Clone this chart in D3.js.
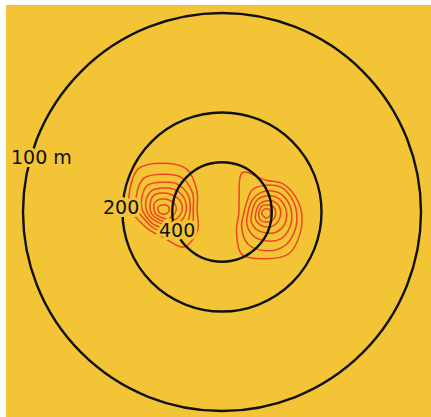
<!DOCTYPE html>
<html>
<head>
<meta charset="utf-8">
<script src="https://cdn.jsdelivr.net/npm/d3@7"></script>
<style>
  body { margin: 0; background: #fff; }
</style>
</head>
<body>
<div id="chart"></div>
<script>
// ring distances (m) -- ring radius goes as 1/distance
const rings = [100, 200, 400];
const ringLabels = ["100 m", "200", "400"];

// contour radii read every 30 deg, clockwise from north (plot units, outer ring = 200)
const bearings = [0, 30, 60, 90, 120, 150, 180, 210, 240, 270, 300, 330];

const leftCenter = [-60, -2];
const leftContours = [
    [47, 48, 40, 35, 41, 43, 27, 24, 25, 32, 38, 48],
    [36, 38, 35, 31, 34, 31, 22, 20, 20, 25, 30, 37],
    [28, 30, 30, 28, 28, 24, 18, 17, 17, 20, 24, 29],
    [22, 24, 25, 24, 22, 18, 14, 13, 14, 16, 19, 22],
    [17, 18, 20, 20, 17, 14, 11, 10, 11, 12, 14, 17],
    [11, 12, 14, 14, 12, 10, 8, 7, 8, 8, 10, 11],
    [5, 6, 7, 7, 6, 5, 4, 4, 4, 4, 5, 5]
];

const rightCenter = [44, 1];
const rightContours = [
    [33, 34, 34, 36, 40, 47, 46, 48, 34, 27, 31, 47],
    [28, 30, 30, 31, 34, 38, 38, 36, 28, 22, 22, 27],
    [22, 24, 25, 26, 28, 30, 28, 26, 22, 18, 18, 20],
    [17, 19, 20, 21, 22, 22, 20, 19, 17, 14, 14, 16],
    [12, 14, 15, 15, 15, 15, 14, 13, 12, 10, 10, 11],
    [8, 9, 10, 10, 10, 10, 9, 9, 8, 7, 7, 8],
    [4, 5, 5, 5, 5, 5, 5, 4, 4, 4, 4, 4]
];

const width = 431, height = 417;
const bg = "#F3C536";
const red = "#EE4422";

const svg = d3.select("#chart")
    .append("svg")
    .attr("width", width)
    .attr("height", height);

// yellow panel
svg.append("rect")
    .attr("x", 6)
    .attr("y", 5)
    .attr("width", width - 6)
    .attr("height", height - 5)
    .attr("fill", bg);

// plot units -> px
const unit = d3.scaleLinear().domain([0, 200]).range([0, 199]);
const ringR = d => unit(20000 / d);

const g = svg.append("g")
    .attr("transform", "translate(222,212)");

// contours
const radial = d3.lineRadial()
    .angle((d, i) => bearings[i] * Math.PI / 180)
    .radius(d => unit(d))
    .curve(d3.curveCatmullRomClosed.alpha(0.5));

[[leftCenter, leftContours], [rightCenter, rightContours]].forEach(([c, levels]) => {
    g.append("g")
        .attr("transform", `translate(${unit(c[0])},${unit(c[1])})`)
        .selectAll("path")
        .data(levels)
        .join("path")
        .attr("d", radial)
        .attr("fill", "none")
        .attr("stroke", red)
        .attr("stroke-width", 1.5);
});

// rings
g.selectAll("circle.ring")
    .data(rings)
    .join("circle")
    .attr("class", "ring")
    .attr("r", d => ringR(d))
    .attr("fill", "none")
    .attr("stroke", "#111")
    .attr("stroke-width", 2.4);

// labels, with a halo so they break the rings
const labelPos = [[11, 164], [103, 214], [159, 237]];
svg.selectAll("text.lab")
    .data(ringLabels)
    .join("text")
    .attr("class", "lab")
    .attr("x", (d, i) => labelPos[i][0])
    .attr("y", (d, i) => labelPos[i][1])
    .style("font-family", "DejaVu Sans")
    .style("font-size", "19px")
    .attr("fill", "#111")
    .attr("stroke", bg)
    .attr("stroke-width", 6)
    .attr("paint-order", "stroke")
    .text(d => d);
</script>
</body>
</html>
